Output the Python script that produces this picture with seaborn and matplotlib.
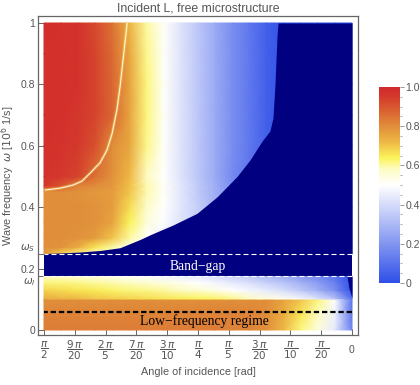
import numpy as np
import matplotlib
matplotlib.use("Agg")
import matplotlib.pyplot as plt
from matplotlib.colors import LinearSegmentedColormap
from matplotlib.ticker import MultipleLocator
import seaborn as sns

# sampled angles of incidence (degrees), left to right on the plot: pi/2 ... 0
angles_deg = [90, 85, 80, 75, 70, 65, 60, 55, 50, 45, 40, 35, 30, 25, 20, 15, 10, 5, 0]

omega_S = 0.248   # upper edge of the band gap
omega_I = 0.176   # lower edge of the band gap
omega_low = 0.059 # limit of the low-frequency regime

# upper branch (above the band gap), one row per frequency
upper_freqs = [0.248, 0.27, 0.30, 0.35, 0.40, 0.45, 0.47, 0.50, 0.60, 0.70, 0.80, 0.90, 1.00]
upper_vals = [
    [0.78, 0.68, 0.62, 0.57, 0.53, 0.50, 0.47, 0.44, 0.41, 0.38, 0.34, 0.30, 0.25, 0.20, 0.15, 0.10, 0.05, 0.02, 0.00],
    [0.80, 0.79, 0.74, 0.66, 0.60, 0.52, 0.48, 0.44, 0.41, 0.38, 0.34, 0.30, 0.25, 0.20, 0.15, 0.10, 0.05, 0.02, 0.00],
    [0.80, 0.80, 0.79, 0.77, 0.70, 0.60, 0.50, 0.45, 0.41, 0.37, 0.33, 0.29, 0.24, 0.19, 0.14, 0.09, 0.05, 0.02, 0.00],
    [0.80, 0.80, 0.80, 0.79, 0.76, 0.64, 0.55, 0.49, 0.42, 0.36, 0.31, 0.26, 0.21, 0.16, 0.12, 0.08, 0.04, 0.02, 0.00],
    [0.80, 0.80, 0.80, 0.79, 0.77, 0.67, 0.57, 0.50, 0.43, 0.36, 0.28, 0.23, 0.18, 0.13, 0.09, 0.06, 0.03, 0.01, 0.00],
    [0.80, 0.80, 0.79, 0.78, 0.77, 0.70, 0.59, 0.51, 0.43, 0.35, 0.27, 0.19, 0.14, 0.09, 0.06, 0.04, 0.02, 0.01, 0.00],
    [0.96, 0.90, 0.82, 0.80, 0.78, 0.71, 0.59, 0.51, 0.43, 0.35, 0.27, 0.18, 0.12, 0.07, 0.04, 0.02, 0.01, 0.00, 0.00],
    [0.97, 0.96, 0.93, 0.85, 0.79, 0.72, 0.58, 0.50, 0.42, 0.34, 0.26, 0.17, 0.11, 0.05, 0.02, 0.01, 0.00, 0.00, 0.00],
    [0.98, 0.97, 0.95, 0.91, 0.80, 0.75, 0.61, 0.51, 0.42, 0.34, 0.26, 0.18, 0.12, 0.05, 0.01, 0.00, 0.00, 0.00, 0.00],
    [0.98, 0.98, 0.96, 0.93, 0.87, 0.76, 0.62, 0.51, 0.42, 0.34, 0.26, 0.18, 0.12, 0.05, 0.01, 0.00, 0.00, 0.00, 0.00],
    [0.98, 0.98, 0.97, 0.93, 0.87, 0.76, 0.62, 0.51, 0.42, 0.34, 0.26, 0.18, 0.12, 0.05, 0.01, 0.00, 0.00, 0.00, 0.00],
    [0.98, 0.98, 0.97, 0.93, 0.86, 0.75, 0.61, 0.51, 0.42, 0.34, 0.26, 0.18, 0.12, 0.05, 0.01, 0.00, 0.00, 0.00, 0.00],
    [0.99, 0.98, 0.97, 0.92, 0.85, 0.73, 0.60, 0.51, 0.42, 0.34, 0.26, 0.18, 0.12, 0.05, 0.01, 0.00, 0.00, 0.00, 0.00],
]

# lower branch (below the band gap)
lower_freqs = [0.0, 0.05, 0.098, 0.102, 0.13, 0.155, 0.176]
lower_vals = [
    [0.83, 0.83, 0.83, 0.83, 0.83, 0.83, 0.83, 0.83, 0.83, 0.83, 0.83, 0.82, 0.82, 0.79, 0.72, 0.62, 0.55, 0.44, 0.15],
    [0.82, 0.82, 0.82, 0.82, 0.82, 0.82, 0.82, 0.82, 0.82, 0.82, 0.82, 0.82, 0.82, 0.80, 0.74, 0.66, 0.58, 0.46, 0.12],
    [0.80, 0.80, 0.80, 0.80, 0.80, 0.80, 0.80, 0.80, 0.80, 0.80, 0.80, 0.80, 0.80, 0.80, 0.76, 0.70, 0.62, 0.50, 0.10],
    [0.74, 0.73, 0.72, 0.70, 0.69, 0.68, 0.67, 0.66, 0.65, 0.64, 0.63, 0.61, 0.58, 0.55, 0.52, 0.48, 0.42, 0.33, 0.10],
    [0.68, 0.67, 0.66, 0.65, 0.63, 0.62, 0.61, 0.60, 0.58, 0.56, 0.53, 0.50, 0.47, 0.44, 0.40, 0.34, 0.27, 0.18, 0.00],
    [0.62, 0.62, 0.61, 0.60, 0.59, 0.58, 0.56, 0.54, 0.52, 0.50, 0.47, 0.44, 0.41, 0.37, 0.33, 0.28, 0.22, 0.14, 0.00],
    [0.57, 0.56, 0.55, 0.54, 0.52, 0.51, 0.49, 0.47, 0.45, 0.43, 0.40, 0.37, 0.34, 0.30, 0.26, 0.21, 0.16, 0.10, 0.00],
]

# cut-off curve of the upper branch (no transmission below it)
cutoff_deg = [0, 21.6, 21.9, 22.5, 23.1, 24.0, 26.3, 29.8, 33.6, 39.4, 45.3, 52.3, 56.1, 59.0, 61.9, 67.8, 73.6, 79.5, 85.3, 90]
cutoff_freq = [1.0, 1.0, 0.96, 0.80, 0.69, 0.648, 0.615, 0.554, 0.50, 0.434, 0.38, 0.342, 0.324, 0.31, 0.295, 0.268, 0.259, 0.254, 0.251, 0.249]

# small cut-off at grazing angles in the lower branch
sliver_freq = [0.104, 0.137, 0.176]
sliver_deg = [0, 0.88, 1.46]

# thin resonance line in the upper branch
res_deg = [89.7, 85.3, 81.5, 78.9, 76.6, 73.6, 71.6, 70.1, 68.7, 67.8, 66.9, 66.3, 65.7]
res_freq = [0.456, 0.462, 0.472, 0.485, 0.51, 0.545, 0.586, 0.64, 0.717, 0.79, 0.88, 0.94, 1.0]

x_ticks_frac = [10, 9, 8, 7, 6, 5, 4, 3, 2, 1, 0]  # multiples of pi/20
x_tick_labels = [r'$\dfrac{\pi}{2}$', r'$\dfrac{9\,\pi}{20}$', r'$\dfrac{2\,\pi}{5}$', r'$\dfrac{7\,\pi}{20}$',
                 r'$\dfrac{3\,\pi}{10}$', r'$\dfrac{\pi}{4}$', r'$\dfrac{\pi}{5}$', r'$\dfrac{3\,\pi}{20}$',
                 r'$\dfrac{\pi}{10}$', r'$\dfrac{\pi}{20}$', '0']
y_ticks = [0, omega_I, 0.2, omega_S, 0.4, 0.6, 0.8, 1.0]
y_tick_labels = ['0', r'$\omega_I$', '0.2', r'$\omega_S$', '0.4', '0.6', '0.8', '1']
cbar_ticks = [0, 0.2, 0.4, 0.6, 0.8, 1.0]
cbar_labels = ['0', '0.2', '0.4', '0.6', '0.8', '1.0']

NAVY = '#000080'
GRAY = '#555555'

sns.set_style("white")
plt.rcParams['font.family'] = ['Liberation Sans', 'DejaVu Sans']
plt.rcParams['mathtext.fontset'] = 'dejavusans'

cmap = LinearSegmentedColormap.from_list('temperature', [
    (0.0, '#2f4fe8'), (0.5, '#ffffff'), (0.58, '#fdfcc4'), (0.64, '#fbf35a'),
    (0.72, '#eeb845'), (0.80, '#e08e3a'), (0.90, '#d8572f'), (0.95, '#d43a2c'), (1.0, '#d22a2b')])

fig = plt.figure(figsize=(4.2, 3.85), dpi=100)
ax = fig.add_axes([38/420, 50/385, 320/420, 319/385])
cax = fig.add_axes([379/420, 102/385, 21/420, 196/385])

x = np.deg2rad(angles_deg)
mesh = ax.pcolormesh(x, upper_freqs, np.array(upper_vals), cmap=cmap, vmin=0, vmax=1, shading='gouraud')
ax.pcolormesh(x, lower_freqs, np.array(lower_vals), cmap=cmap, vmin=0, vmax=1, shading='gouraud')

# dark regions: band gap, cut-off regions
ax.fill_between(np.deg2rad(cutoff_deg), omega_S, cutoff_freq, color=NAVY, lw=0)
ax.fill_between([0, np.pi/2], omega_I, omega_S, color=NAVY, lw=0)
ax.fill_betweenx(sliver_freq, 0, np.deg2rad(sliver_deg), color=NAVY, lw=0)

# resonance line
sns.lineplot(x=np.deg2rad(res_deg), y=res_freq, ax=ax, color='#f8e060', lw=2.4, alpha=0.3, sort=False)
sns.lineplot(x=np.deg2rad(res_deg), y=res_freq, ax=ax, color='#fff8d8', lw=0.8, sort=False)

ax.hlines([omega_S, omega_I], 0, np.pi/2, colors='white', lw=0.8, linestyles=(0, (4.5, 2.7)))
ax.hlines(omega_low, 0, np.pi/2, colors='black', lw=1.6, linestyles=(0, (2.4, 1.3)))

ax.text(np.pi/4, 0.195, 'Band\u2212gap', color='white', fontsize=9.8, ha='center', va='baseline',
        family='Liberation Serif')
ax.text(np.pi/4 - 0.03, 0.016, 'Low\u2212frequency regime', color='black', fontsize=9.8, ha='center',
        va='baseline', family='Liberation Serif')

ax.set_xlim(np.pi/2 + 0.0306, -0.0306)
ax.set_ylim(-0.0163, 1.0228)
ax.set_xticks(np.pi * np.array(x_ticks_frac) / 20)
ax.set_xticklabels(x_tick_labels)
ax.set_yticks(y_ticks)
ax.set_yticklabels(y_tick_labels)
for lab in ax.get_yticklabels():
    if lab.get_text() == r'$\omega_I$':
        lab.set_va('top')
        lab.set_color('#a8a8a8')
        lab.set_fontsize(7)
    elif lab.get_text() == r'$\omega_S$':
        lab.set_va('bottom')
        lab.set_color('#a8a8a8')
        lab.set_fontsize(7)
for lab in ax.get_xticklabels():
    lab.set_va('center')
    lab.set_fontsize(8.5)

ax.tick_params(axis='both', direction='in', length=4, width=0.7, color='#666666',
               labelcolor=GRAY, labelsize=7.5, left=True, bottom=True, top=False, right=False)
ax.tick_params(axis='x', pad=11)
ax.tick_params(axis='y', pad=2)
for s in ax.spines.values():
    s.set_color('#666666')
    s.set_linewidth(0.9)

ax.set_title('Incident L, free microstructure', color=GRAY, fontsize=8.8, pad=3)
ax.set_xlabel('Angle of incidence [rad]', color=GRAY, fontsize=7.8, labelpad=4)
ax.set_ylabel(r'Wave frequency  $\omega$ [$10^6$ 1/s]', color=GRAY, fontsize=7.8, labelpad=2)

cb = fig.colorbar(mesh, cax=cax)
cb.outline.set_visible(False)
cb.set_ticks(cbar_ticks)
cb.set_ticklabels(cbar_labels)
cax.yaxis.set_minor_locator(MultipleLocator(0.05))
cax.tick_params(which='major', length=3, width=0.6, color='#888888', labelcolor=GRAY, labelsize=7.5, pad=1)
cax.tick_params(which='minor', length=1.5, width=0.5, color='#888888')

fig.savefig('out.png', dpi=100)
